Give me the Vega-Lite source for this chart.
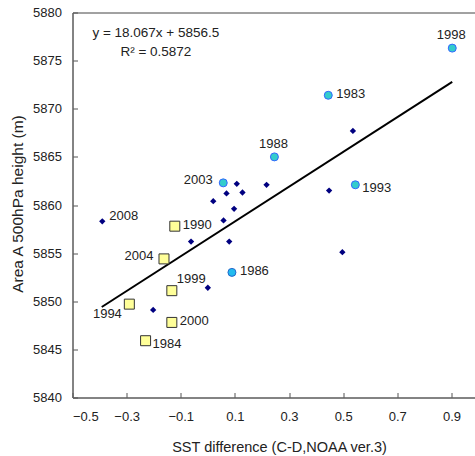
{
  "$schema": "https://vega.github.io/schema/vega-lite/v6.json",
  "autosize": {"type": "none"},
  "padding": {"left": 72.5, "top": 12.5, "right": 0, "bottom": 58.5},
  "width": 406,
  "height": 385,
  "config": {
    "font": "Liberation Sans",
    "view": {"stroke": "#444", "strokeWidth": 1},
    "axis": {
      "grid": false,
      "labelFont": "Liberation Sans",
      "labelFontSize": 13,
      "labelColor": "#222",
      "titleFont": "Liberation Sans",
      "titleFontWeight": "normal",
      "titleColor": "#222",
      "domainColor": "#666",
      "tickColor": "#555",
      "tickSize": -5
    }
  },
  "datasets": {
    "pts": [
      {"x": 0.903, "y": 5876.3, "grp": "warm", "label": "1998"},
      {"x": 0.445, "y": 5871.4, "grp": "warm", "label": "1983"},
      {"x": 0.246, "y": 5865.0, "grp": "warm", "label": "1988"},
      {"x": 0.545, "y": 5862.1, "grp": "warm", "label": "1993"},
      {"x": 0.057, "y": 5862.3, "grp": "warm", "label": "2003"},
      {"x": 0.089, "y": 5853.0, "grp": "warm2", "label": "1986"},
      {"x": -0.122, "y": 5857.8, "grp": "cool", "label": "1990"},
      {"x": -0.162, "y": 5854.4, "grp": "cool", "label": "2004"},
      {"x": -0.133, "y": 5851.1, "grp": "cool", "label": "1999"},
      {"x": -0.290, "y": 5849.7, "grp": "cool", "label": "1994"},
      {"x": -0.133, "y": 5847.8, "grp": "cool", "label": "2000"},
      {"x": -0.230, "y": 5845.9, "grp": "cool", "label": "1984"},
      {"x": -0.390, "y": 5858.3, "grp": "other", "label": "2008"},
      {"x": 0.536, "y": 5867.7, "grp": "other", "label": ""},
      {"x": 0.448, "y": 5861.5, "grp": "other", "label": ""},
      {"x": 0.217, "y": 5862.1, "grp": "other", "label": ""},
      {"x": 0.107, "y": 5862.2, "grp": "other", "label": ""},
      {"x": 0.128, "y": 5861.3, "grp": "other", "label": ""},
      {"x": 0.097, "y": 5859.6, "grp": "other", "label": ""},
      {"x": 0.069, "y": 5861.2, "grp": "other", "label": ""},
      {"x": 0.020, "y": 5860.4, "grp": "other", "label": ""},
      {"x": 0.058, "y": 5858.4, "grp": "other", "label": ""},
      {"x": -0.062, "y": 5856.2, "grp": "other", "label": ""},
      {"x": 0.079, "y": 5856.2, "grp": "other", "label": ""},
      {"x": 0.000, "y": 5851.4, "grp": "other", "label": ""},
      {"x": -0.202, "y": 5849.1, "grp": "other", "label": ""},
      {"x": 0.497, "y": 5855.1, "grp": "other", "label": ""}
    ],
    "fit": [
      {"x": -0.392, "y": 5849.4},
      {"x": 0.903, "y": 5872.8}
    ],
    "eq": [
      {"x": -0.192, "y": 5877.9, "text": "y = 18.067x + 5856.5"},
      {"x": -0.192, "y": 5875.85, "text": "R² = 0.5872"}
    ]
  },
  "encoding": {
    "x": {
      "field": "x", "type": "quantitative",
      "scale": {"domain": [-0.5, 1.0], "nice": false, "zero": false},
      "axis": {
        "values": [-0.5, -0.3, -0.1, 0.1, 0.3, 0.5, 0.7, 0.9],
        "format": ".1f",
        "labelPadding": 18,
        "title": "SST difference (C-D,NOAA ver.3)",
        "titleFontSize": 14.5,
        "titleX": 206.5,
        "titleY": 49.5,
        "titleBaseline": "middle",
        "titleAlign": "center"
      }
    },
    "y": {
      "field": "y", "type": "quantitative",
      "scale": {"domain": [5840, 5880], "nice": false, "zero": false},
      "axis": {
        "values": [5840, 5845, 5850, 5855, 5860, 5865, 5870, 5875, 5880],
        "format": "d",
        "labelPadding": 16,
        "title": "Area A 500hPa height (m)",
        "titleFontSize": 15.5,
        "titleX": -55.5,
        "titleY": 191,
        "titleBaseline": "middle",
        "titleAlign": "center"
      }
    }
  },
  "layer": [
    {
      "data": {"name": "fit"},
      "mark": {"type": "line", "color": "#000", "strokeWidth": 2}
    },
    {
      "data": {"name": "pts"},
      "transform": [{"filter": "datum.grp === 'other'"}],
      "mark": {"type": "point", "shape": "diamond", "filled": true, "color": "#000080", "size": 40, "opacity": 1}
    },
    {
      "data": {"name": "pts"},
      "transform": [{"filter": "datum.grp === 'warm'"}],
      "mark": {"type": "point", "shape": "circle", "filled": true, "fill": "#33CCCC", "stroke": "#3366FF", "strokeWidth": 1, "size": 64, "opacity": 1, "fillOpacity": 1}
    },
    {
      "data": {"name": "pts"},
      "transform": [{"filter": "datum.grp === 'warm2'"}],
      "mark": {"type": "point", "shape": "circle", "filled": true, "fill": "#22BBEE", "stroke": "#2266CC", "strokeWidth": 1, "size": 64, "opacity": 1, "fillOpacity": 1}
    },
    {
      "data": {"name": "pts"},
      "transform": [{"filter": "datum.grp === 'cool'"}],
      "mark": {"type": "point", "shape": "square", "filled": true, "fill": "#FFFF99", "stroke": "#333", "strokeWidth": 1, "size": 100, "opacity": 1, "fillOpacity": 1}
    },
    {
      "data": {"name": "pts"},
      "transform": [{"filter": {"field": "label", "oneOf": ["1983", "1990", "2000", "1986"]}}],
      "mark": {"type": "text", "align": "left", "baseline": "middle", "dx": 8, "dy": -1, "fontSize": 13, "color": "#222"},
      "encoding": {"text": {"field": "label"}}
    },
    {
      "data": {"name": "pts"},
      "transform": [{"filter": {"field": "label", "oneOf": ["2008"]}}],
      "mark": {"type": "text", "align": "left", "baseline": "middle", "dx": 7, "dy": -5.5, "fontSize": 13, "color": "#222"},
      "encoding": {"text": {"field": "label"}}
    },
    {
      "data": {"name": "pts"},
      "transform": [{"filter": {"field": "label", "oneOf": ["1984", "1993"]}}],
      "mark": {"type": "text", "align": "left", "baseline": "middle", "dx": 7, "dy": 3.5, "fontSize": 13, "color": "#222"},
      "encoding": {"text": {"field": "label"}}
    },
    {
      "data": {"name": "pts"},
      "transform": [{"filter": {"field": "label", "oneOf": ["2003", "2004"]}}],
      "mark": {"type": "text", "align": "right", "baseline": "middle", "dx": -10.5, "dy": -3, "fontSize": 13, "color": "#222"},
      "encoding": {"text": {"field": "label"}}
    },
    {
      "data": {"name": "pts"},
      "transform": [{"filter": {"field": "label", "oneOf": ["1998", "1988"]}}],
      "mark": {"type": "text", "align": "center", "baseline": "middle", "dx": -1, "dy": -13, "fontSize": 13, "color": "#222"},
      "encoding": {"text": {"field": "label"}}
    },
    {
      "data": {"name": "pts"},
      "transform": [{"filter": {"field": "label", "oneOf": ["1999"]}}],
      "mark": {"type": "text", "align": "left", "baseline": "middle", "dx": 5, "dy": -11.5, "fontSize": 13, "color": "#222"},
      "encoding": {"text": {"field": "label"}}
    },
    {
      "data": {"name": "pts"},
      "transform": [{"filter": {"field": "label", "oneOf": ["1994"]}}],
      "mark": {"type": "text", "align": "right", "baseline": "middle", "dx": -7.5, "dy": 10, "fontSize": 13, "color": "#222"},
      "encoding": {"text": {"field": "label"}}
    },
    {
      "data": {"name": "eq"},
      "mark": {"type": "text", "align": "center", "baseline": "middle", "fontSize": 13.5, "color": "#222"},
      "encoding": {"text": {"field": "text"}}
    }
  ]
}
